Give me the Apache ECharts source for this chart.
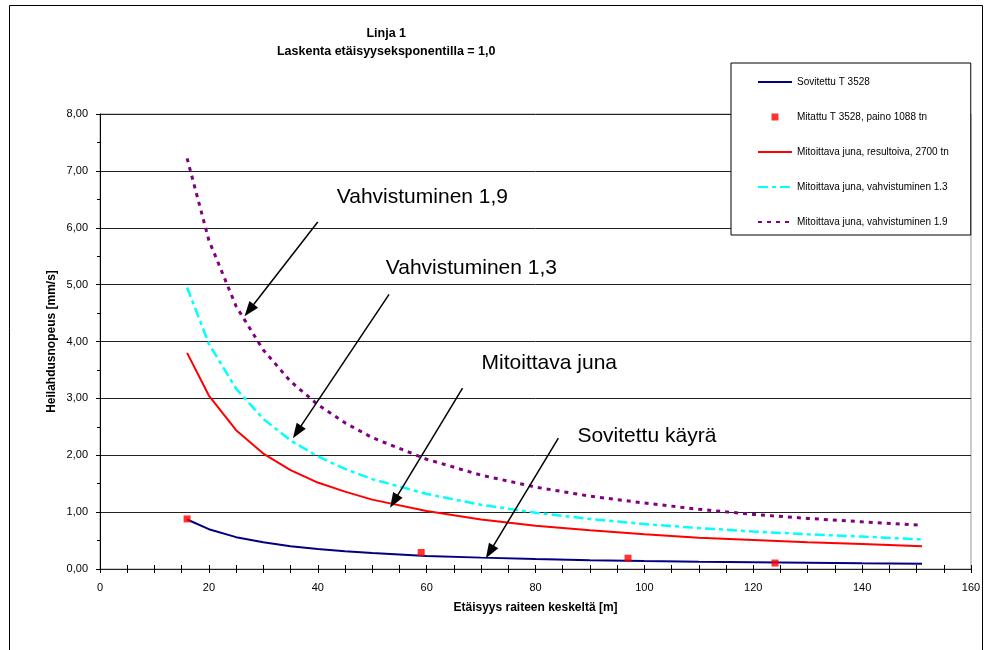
<!DOCTYPE html>
<html>
<head>
<meta charset="utf-8">
<script src="https://cdn.jsdelivr.net/npm/echarts@6/dist/echarts.min.js"></script>
<style>
  html, body { margin: 0; padding: 0; background: #fff; }
  #chart { width: 991px; height: 650px; }
</style>
</head>
<body>
<div id="chart"></div>
<script>
// etäisyys raiteen keskeltä [m]
var distances = [16, 20, 25, 30, 35, 40, 45, 50, 60, 70, 80, 90, 100, 110, 120, 130, 140, 151];

// heilahdusnopeus [mm/s], luettu kuvasta
var sovitettu   = [0.87, 0.70, 0.56, 0.47, 0.40, 0.35, 0.31, 0.28, 0.23, 0.20, 0.175, 0.155, 0.14, 0.127, 0.117, 0.108, 0.10, 0.093];
var resultoiva  = [3.80, 3.05, 2.44, 2.03, 1.74, 1.52, 1.36, 1.22, 1.02, 0.87, 0.76, 0.68, 0.61, 0.55, 0.51, 0.47, 0.44, 0.40];
var vahv13      = [4.95, 3.96, 3.17, 2.64, 2.26, 1.98, 1.76, 1.58, 1.32, 1.13, 0.99, 0.88, 0.79, 0.72, 0.66, 0.61, 0.57, 0.52];
var vahv19      = [7.22, 5.78, 4.62, 3.85, 3.30, 2.89, 2.57, 2.31, 1.93, 1.65, 1.44, 1.28, 1.16, 1.05, 0.96, 0.89, 0.83, 0.77];

// mitatut pisteet
var mitattuX = [16, 59, 97, 124];
var mitattuY = [0.88, 0.29, 0.19, 0.105];

var seriesNames = [
  'Sovitettu T 3528',
  'Mitattu T 3528, paino 1088 tn',
  'Mitoittava juna, resultoiva, 2700 tn',
  'Mitoittava juna, vahvistuminen 1.3',
  'Mitoittava juna, vahvistuminen 1.9'
];

// tekstit ja nuolet (alku -> kärki), akselin yksiköissä
var noteTexts  = ['Vahvistuminen 1,9', 'Vahvistuminen 1,3', 'Mitoittava juna', 'Sovitettu käyrä'];
var notePos    = [[43.5, 6.54], [52.5, 5.29], [70.1, 3.62], [87.7, 2.33]];
var arrowFrom  = [[40.0, 6.10], [53.1, 4.83], [66.6, 3.18], [84.2, 2.30]];
var arrowTo    = [[27.4, 4.55], [36.2, 2.41], [54.0, 1.19], [71.6, 0.30]];

function pairs(xs, ys) {
  var out = [];
  for (var i = 0; i < xs.length; i++) out.push([xs[i], ys[i]]);
  return out;
}

var FONT = '"Liberation Sans", Arial, sans-serif';

var arrowData = [];
for (var i = 0; i < arrowFrom.length; i++) {
  arrowData.push([{ coord: arrowFrom[i] }, { coord: arrowTo[i] }]);
}
var noteData = [];
for (var j = 0; j < noteTexts.length; j++) {
  noteData.push({ coord: notePos[j], value: noteTexts[j] });
}

// legendin viivoihin ei symbolia, mitatulle pieni neliö keskelle
var noSymbol = { color: 'transparent', borderWidth: 0 };
var squareIcon = 'path://M0,3.5h0.01M34,3.5h0.01M13.5,0h7v7h-7z';

var myChart = echarts.init(document.getElementById('chart'));

myChart.setOption({
  animation: false,
  textStyle: { fontFamily: FONT },
  title: {
    text: 'Linja 1\nLaskenta etäisyyseksponentilla = 1,0',
    left: 'center',
    top: 20,
    textStyle: { fontSize: 12.5, fontWeight: 'bold', color: '#000', lineHeight: 18, fontFamily: FONT },
    textAlign: 'center'
  },
  graphic: [{
    type: 'rect',
    shape: { x: 9.5, y: 5.5, width: 973, height: 700 },
    style: { fill: 'none', stroke: '#000', lineWidth: 1 },
    silent: true
  }],
  legend: {
    orient: 'vertical',
    left: 731,
    top: 63,
    padding: [14, 22, 8, 26],
    itemGap: 25,
    itemWidth: 34,
    itemHeight: 7,
    backgroundColor: '#fff',
    borderColor: '#000',
    borderWidth: 1,
    textStyle: { fontSize: 10, color: '#000', fontFamily: FONT },
    data: [
      { name: seriesNames[0], itemStyle: noSymbol },
      { name: seriesNames[1], icon: squareIcon },
      { name: seriesNames[2], itemStyle: noSymbol },
      { name: seriesNames[3], itemStyle: noSymbol },
      { name: seriesNames[4], itemStyle: noSymbol }
    ]
  },
  grid: {
    left: 100,
    top: 114,
    right: 20,
    bottom: 81,
    show: true,
    borderColor: '#999',
    borderWidth: 1,
    outerBoundsMode: 'none'
  },
  xAxis: [{
    type: 'value',
    min: 0,
    max: 160,
    interval: 20,
    name: 'Etäisyys raiteen keskeltä [m]',
    nameLocation: 'middle',
    nameGap: 33,
    nameMoveOverlap: false,
    nameTextStyle: { fontSize: 12, fontWeight: 'bold', color: '#000', fontFamily: FONT },
    axisLine: { lineStyle: { color: '#222', width: 1 } },
    axisTick: { length: 4, lineStyle: { color: '#000' } },
    minorTick: { show: true, splitNumber: 4, length: 4, lineStyle: { color: '#000' } },
    axisLabel: { fontSize: 11, color: '#000', margin: 13 },
    splitLine: { show: false }
  }, {
    type: 'value',
    min: 0,
    max: 160,
    interval: 20,
    position: 'bottom',
    axisLine: { show: false },
    axisTick: { inside: true, length: 4, lineStyle: { color: '#000' } },
    minorTick: { show: true, splitNumber: 4, length: 4, lineStyle: { color: '#000' } },
    axisLabel: { show: false },
    splitLine: { show: false }
  }],
  yAxis: [{
    type: 'value',
    min: 0,
    max: 8,
    interval: 1,
    name: 'Heilahdusnopeus [mm/s]',
    nameLocation: 'middle',
    nameGap: 42,
    nameMoveOverlap: false,
    nameTextStyle: { fontSize: 12, fontWeight: 'bold', color: '#000', fontFamily: FONT },
    axisLine: { show: true, lineStyle: { color: '#000', width: 1 } },
    axisTick: { show: true, length: 4, lineStyle: { color: '#000' } },
    minorTick: { show: true, splitNumber: 2, length: 3, lineStyle: { color: '#000' } },
    axisLabel: {
      fontSize: 11,
      color: '#000',
      margin: 12,
      formatter: function (v) { return v.toFixed(2).replace('.', ','); }
    },
    splitLine: { show: true, lineStyle: { color: '#222', width: 1 } }
  }, {
    type: 'value',
    min: 0,
    max: 8,
    interval: 1,
    position: 'left',
    axisLine: { show: false },
    axisTick: { show: false },
    minorTick: { show: true, splitNumber: 2, length: 3, lineStyle: { color: '#000' } },
    axisLabel: { show: false },
    splitLine: { show: false }
  }],
  series: [
    {
      name: seriesNames[0],
      type: 'line',
      symbol: 'none',
      z: 3,
      data: pairs(distances, sovitettu),
      lineStyle: { color: '#000080', width: 2 },
      itemStyle: { color: '#000080' }
    },
    {
      name: seriesNames[1],
      type: 'scatter',
      symbol: 'rect',
      symbolSize: 7,
      z: 4,
      data: pairs(mitattuX, mitattuY),
      itemStyle: { color: '#ff0000' }
    },
    {
      name: seriesNames[2],
      type: 'line',
      symbol: 'none',
      data: pairs(distances, resultoiva),
      lineStyle: { color: '#ff0000', width: 2 },
      itemStyle: { color: '#ff0000' }
    },
    {
      name: seriesNames[3],
      type: 'line',
      symbol: 'none',
      data: pairs(distances, vahv13),
      lineStyle: { color: '#00ffff', width: 2.5, type: [10, 4, 4, 4] },
      itemStyle: { color: '#00ffff' }
    },
    {
      name: seriesNames[4],
      type: 'line',
      symbol: 'none',
      data: pairs(distances, vahv19),
      lineStyle: { color: '#800080', width: 3, type: [4, 5] },
      itemStyle: { color: '#800080' },
      // nuolet ja selitetekstit
      markLine: {
        silent: true,
        symbol: ['none', 'triangle'],
        symbolSize: [11, 15],
        label: { show: false },
        lineStyle: { color: '#000', width: 1.5, type: 'solid' },
        data: arrowData
      },
      markPoint: {
        silent: true,
        symbol: 'circle',
        symbolSize: 0,
        label: {
          show: true,
          position: 'right',
          distance: 0,
          fontSize: 21,
          color: '#000',
          fontFamily: FONT,
          formatter: function (p) { return p.value; }
        },
        data: noteData
      }
    }
  ]
});
</script>
</body>
</html>
